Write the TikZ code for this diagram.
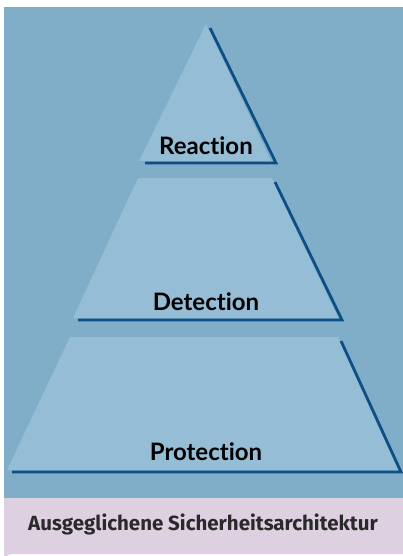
\documentclass[tikz,border=0pt]{standalone}
\usepackage{fontspec}
\setmainfont{Lato}[Ligatures=NoCommon]
\newfontfamily\capfont{Fira Sans}
\definecolor{bgblue}{HTML}{80ADC7}
\definecolor{layer}{HTML}{96BDD6}
\definecolor{shade}{HTML}{0C4E86}
\definecolor{footer}{HTML}{DDD0E0}
\definecolor{ink}{HTML}{2A2A2A}
\tikzset{
  layerfill/.style={fill=layer, draw=none},
  shadowline/.style={draw=shade, line width=2.8pt, line cap=butt, line join=miter},
  lbl/.style={anchor=base, inner sep=0pt, font=\fontsize{24}{26}\selectfont\bfseries, text=black},
  foot/.style={anchor=base, inner sep=0pt, font=\capfont\fontsize{20.5}{22}\selectfont\bfseries, text=ink}
}
\begin{document}
\begin{tikzpicture}[x=1pt,y=-1pt]
\useasboundingbox (0,0) rectangle (403,556);
% background panels
\fill[bgblue] (4,7) rectangle (403,498);
\fill[footer] (4,498) -- (403,498) -- (403,554) -- (12,554) arc[start angle=270, end angle=180, radius=8] -- cycle;
% top triangle
\coordinate (ta) at (206,24);
\coordinate (tl) at (139,161);
\coordinate (tr) at (271,161);
\fill[layerfill] (ta) -- (tr) -- (tl) -- cycle;
\coordinate (tsa) at (210,28);
\coordinate (tsr) at (276,163);
\coordinate (tsl) at (145,163);
\draw[shadowline] (tsa) -- (tsr) -- (tsl);
% middle trapezoid
\coordinate (mtl) at (138,178);
\coordinate (mtr) at (272,178);
\coordinate (mbr) at (338,318);
\coordinate (mbl) at (73,318);
\fill[layerfill] (mtl) -- (mtr) -- (mbr) -- (mbl) -- cycle;
\coordinate (msa) at (275,182);
\coordinate (msr) at (342,320);
\coordinate (msl) at (78,320);
\draw[shadowline] (msa) -- (msr) -- (msl);
% bottom trapezoid
\coordinate (btl) at (70,337);
\coordinate (btr) at (338,337);
\coordinate (bbr) at (398,470);
\coordinate (bbl) at (7,470);
\fill[layerfill] (btl) -- (btr) -- (bbr) -- (bbl) -- cycle;
\coordinate (bsa) at (341,341);
\coordinate (bsr) at (401,472);
\coordinate (bsl) at (12,472);
\draw[shadowline] (bsa) -- (bsr) -- (bsl);
% labels
\node[lbl] (reaction) at (206,155) {Reaction};
\node[lbl] (detection) at (206,310) {Detection};
\node[lbl] (protection) at (206,460) {Protection};
\node[foot] (footer) at (203,530) {Ausgeglichene Sicherheitsarchitektur};
\end{tikzpicture}
\end{document}
